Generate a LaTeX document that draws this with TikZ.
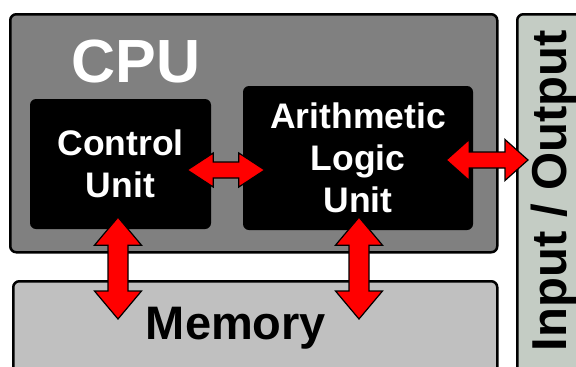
\documentclass[tikz,border=0pt]{standalone}
\usepackage{fontspec}
\setmainfont{Liberation Sans}
\usetikzlibrary{calc}

\definecolor{cpugray}{HTML}{808080}
\definecolor{memgray}{HTML}{C0C0C0}
\definecolor{iogray}{HTML}{C4CCC4}

% two-headed block arrow: from, to, shaft half width, head half width, head length
\newcommand\dualarrow[5]{%
  \coordinate (pa) at ($(#1)!#5!(#2)$);
  \coordinate (pb) at ($(#2)!#5!(#1)$);
  \draw[dualarrow] (#1) -- ($(pa)!#4!90:(#2)$) -- ($(pa)!#3!90:(#2)$)
    -- ($(pb)!#3!-90:(#1)$) -- ($(pb)!#4!-90:(#1)$) -- (#2)
    -- ($(pb)!#4!90:(#1)$) -- ($(pb)!#3!90:(#1)$)
    -- ($(pa)!#3!-90:(#2)$) -- ($(pa)!#4!-90:(#2)$) -- cycle;
}

\begin{document}
\begin{tikzpicture}[x=1pt,y=-1pt,
    box/.style={draw=black, line width=2.5pt, rounded corners=6pt, inner sep=0pt},
    unit/.style={fill=black, rounded corners=6pt, text=white, align=center, inner sep=0pt,
        font=\bfseries\fontsize{35.5}{42}\selectfont},
    dualarrow/.style={fill=red, draw=black, line width=1.2pt, line join=miter}]
    \useasboundingbox (0,0) rectangle (576,367);
    \clip (0,0) rectangle (576,367);

    % CPU frame
    \node[box, fill=cpugray, minimum width=487pt, minimum height=238pt, anchor=north west] (cpu) at (9,13) {};
    \node[text=white, font=\bfseries\fontsize{61}{61}\selectfont, anchor=base, inner sep=0pt] (cpulabel) at (136,82) {CPU};

    % Units inside the CPU
    \node[unit, minimum width=181pt, minimum height=130pt] (cu) at (120.5,164) {Control\\Unit};
    \node[unit, minimum width=230pt, minimum height=144pt] (alu) at (358,158) {Arithmetic\\Logic\\Unit};

    % Memory
    \node[box, fill=memgray, minimum width=484pt, minimum height=150pt, anchor=north west] (mem) at (12,280) {};
    \node[font=\bfseries\fontsize{47}{47}\selectfont, anchor=base, inner sep=0pt] (memlabel) at (236,339) {Memory};

    % Input / Output
    \node[box, fill=iogray, minimum width=120pt, minimum height=400pt, anchor=north west] (io) at (516,13) {};
    \node[font=\bfseries\fontsize{49}{49}\selectfont, rotate=90, anchor=base, inner sep=0pt] (iolabel) at (566,190.5) {Input / Output};

    % Arrow ends
    \coordinate (cualuA) at ([xshift=-24pt,yshift=-6pt]cu.east);
    \coordinate (cualuB) at ([xshift=22pt]cualuA -| alu.west);
    \coordinate (aluioA) at ([xshift=-27pt,yshift=-2pt]alu.east);
    \coordinate (aluioB) at ([xshift=12pt]aluioA -| io.west);
    \coordinate (cumemA) at ([xshift=-2.5pt,yshift=12pt]cu.south);
    \coordinate (cumemB) at ([yshift=-39pt]cumemA |- mem.north);
    \coordinate (alumemA) at ([xshift=1pt,yshift=13pt]alu.south);
    \coordinate (alumemB) at ([yshift=-39pt]alumemA |- mem.north);

    % Red data paths
    \dualarrow{cualuA}{cualuB}{8pt}{17pt}{26pt}
    \dualarrow{aluioA}{aluioB}{8pt}{20.5pt}{23pt}
    \dualarrow{cumemA}{cumemB}{10pt}{23.5pt}{28pt}
    \dualarrow{alumemA}{alumemB}{10pt}{23.5pt}{28pt}
\end{tikzpicture}
\end{document}
